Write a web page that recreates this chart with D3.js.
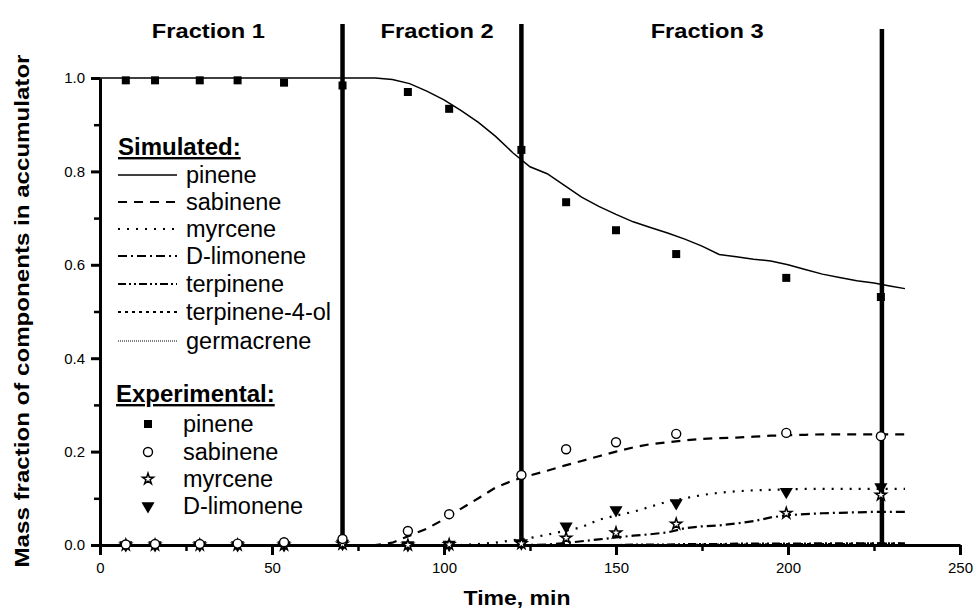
<!DOCTYPE html>
<html>
<head>
<meta charset="utf-8">
<script src="https://cdn.jsdelivr.net/npm/d3@7"></script>
<style>
  body { margin: 0; background: #fff; }
  svg { font-family: Arial, "Liberation Sans", sans-serif; }
  .tick text { font-size: 15px; }
</style>
</head>
<body>
<div id="chart"></div>
<script>
// svg container
var width = 976;
var height = 613;

var margin = { top: 78, right: 16, bottom: 68, left: 100 };

// simulated curves (time grid + one array per component)
var simTime = [0, 10, 20, 30, 40, 50, 60, 70, 80, 85, 90, 95, 100, 105, 110, 115, 120, 125, 130, 135,
  140, 145, 150, 155, 160, 165, 170, 175, 180, 185, 190, 195, 200, 205, 210, 215, 220, 225, 230, 234];
var simPinene = [1, 1, 1, 1, 1, 1, 1, 1, 1, 0.997, 0.988, 0.972, 0.953, 0.93, 0.905, 0.875, 0.84, 0.81, 0.795, 0.77,
  0.745, 0.725, 0.708, 0.692, 0.68, 0.668, 0.655, 0.64, 0.622, 0.617, 0.612, 0.608, 0.6, 0.59, 0.58, 0.573, 0.566, 0.561, 0.554, 0.549];
var simSabinene = [0, 0, 0, 0, 0, 0, 0, 0, 0, 0.005, 0.02, 0.035, 0.055, 0.078, 0.1, 0.123, 0.138, 0.149, 0.159, 0.17,
  0.18, 0.19, 0.2, 0.209, 0.216, 0.22, 0.224, 0.227, 0.229, 0.23, 0.232, 0.234, 0.235, 0.236, 0.237, 0.237, 0.237, 0.237, 0.237, 0.237];
var simMyrcene = [0, 0, 0, 0, 0, 0, 0, 0, 0, 0, 0, 0, 0, 0, 0.002, 0.005, 0.01, 0.015, 0.022, 0.03,
  0.038, 0.054, 0.063, 0.071, 0.082, 0.093, 0.1, 0.107, 0.112, 0.115, 0.117, 0.118, 0.119, 0.12, 0.12, 0.12, 0.12, 0.12, 0.12, 0.12];
var simLimonene = [0, 0, 0, 0, 0, 0, 0, 0, 0, 0, 0, 0, 0, 0, 0, 0, 0, 0, 0.001, 0.004,
  0.008, 0.012, 0.016, 0.02, 0.023, 0.027, 0.036, 0.04, 0.042, 0.046, 0.051, 0.059, 0.064, 0.066, 0.068, 0.069, 0.07, 0.071, 0.071, 0.071];
var simTerpinene = [0, 0, 0, 0, 0, 0, 0, 0, 0, 0, 0, 0, 0, 0, 0, 0, 0, 0, 0, 0,
  0, 0, 0, 0.001, 0.001, 0.001, 0.002, 0.002, 0.002, 0.003, 0.003, 0.003, 0.003, 0.003, 0.004, 0.004, 0.004, 0.004, 0.004, 0.004];
var simTerpinenol = [0, 0, 0, 0, 0, 0, 0, 0, 0, 0, 0, 0, 0, 0, 0, 0, 0, 0, 0, 0,
  0, 0, 0, 0, 0, 0, 0, 0.001, 0.001, 0.001, 0.001, 0.002, 0.002, 0.002, 0.002, 0.002, 0.003, 0.003, 0.003, 0.003];
var simGermacrene = [0, 0, 0, 0, 0, 0, 0, 0, 0, 0, 0, 0, 0, 0, 0, 0, 0, 0, 0, 0,
  0, 0, 0, 0, 0, 0, 0, 0, 0, 0, 0, 0, 0, 0.001, 0.001, 0.001, 0.001, 0.001, 0.001, 0.001];

// experimental points
var expTime = [7.5, 16, 29, 40, 53.5, 70.5, 89.5, 101.5, 122.5, 135.5, 150, 167.5, 199.5, 227];
var expPinene = [0.995, 0.995, 0.995, 0.995, 0.99, 0.984, 0.97, 0.934, 0.846, 0.734, 0.674, 0.623, 0.572, 0.531];
var expSabinene = [0.001, 0.002, 0.002, 0.003, 0.006, 0.013, 0.03, 0.066, 0.15, 0.205, 0.22, 0.238, 0.24, 0.233];
var expMyrcene = [0, 0, 0, 0, 0, 0.002, 0, 0.001, 0.003, 0.015, 0.026, 0.045, 0.068, 0.107];
var expLimonene = [0, 0, 0, 0, 0, 0.003, 0, 0.001, 0.004, 0.04, 0.075, 0.09, 0.114, 0.124];

// fraction boundaries and labels
var cutTimes = [70.5, 122.5, 227.3];
var cutTops = [24, 24, 29];
var fractionLabels = ["Fraction 1", "Fraction 2", "Fraction 3"];
var fractionCenters = [31.5, 98, 176.5];

var xTicks = [0, 50, 100, 150, 200, 250];
var yTicks = [0, 0.2, 0.4, 0.6, 0.8, 1.0];

var svg = d3.select("#chart")
    .append("svg")
    .attr("width", width)
    .attr("height", height);

var x = d3.scaleLinear().domain([0, 250]).range([margin.left, width - margin.right]);
var y = d3.scaleLinear().domain([0, 1]).range([height - margin.bottom, margin.top]);

// minor ticks
svg.append("g")
    .attr("transform", `translate(0, ${y(0)})`)
    .call(d3.axisBottom(x).tickValues(d3.range(25, 250, 50)).tickSize(6).tickFormat(""))
    .call(g => g.select(".domain").remove())
    .call(g => g.selectAll("line").attr("stroke-width", 2.5));
svg.append("g")
    .attr("transform", `translate(${x(0)}, 0)`)
    .call(d3.axisLeft(y).tickValues(d3.range(0.1, 1, 0.2)).tickSize(6).tickFormat(""))
    .call(g => g.select(".domain").remove())
    .call(g => g.selectAll("line").attr("stroke-width", 2.5));

// main axes
svg.append("g")
    .attr("transform", `translate(0, ${y(0)})`)
    .call(d3.axisBottom(x).tickValues(xTicks).tickSize(10).tickSizeOuter(0).tickPadding(7).tickFormat(d3.format("d")))
    .call(g => g.select(".domain").attr("stroke-width", 3))
    .call(g => g.selectAll(".tick line").attr("stroke-width", 3))
    .call(g => g.selectAll(".tick text").attr("fill", "#000").style("font-size", "15px"));
svg.append("g")
    .attr("transform", `translate(${x(0)}, 0)`)
    .call(d3.axisLeft(y).tickValues(yTicks).tickSize(9).tickSizeOuter(0).tickPadding(6).tickFormat(d3.format(".1f")))
    .call(g => g.select(".domain").attr("stroke-width", 3))
    .call(g => g.selectAll(".tick line").attr("stroke-width", 3))
    .call(g => g.selectAll(".tick text").attr("fill", "#000").style("font-size", "15px"));

// axis titles
svg.append("text")
    .attr("x", 517).attr("y", 605)
    .attr("text-anchor", "middle")
    .attr("font-weight", "bold").attr("font-size", 21)
    .attr("textLength", 107).attr("lengthAdjust", "spacingAndGlyphs")
    .text("Time, min");
svg.append("text")
    .attr("transform", "translate(29, 311) rotate(-90)")
    .attr("text-anchor", "middle")
    .attr("font-weight", "bold").attr("font-size", 21)
    .attr("textLength", 513).attr("lengthAdjust", "spacingAndGlyphs")
    .text("Mass fraction of components in accumulator");

// fraction labels + boundaries
fractionLabels.forEach(function(t, i) {
  svg.append("text")
      .attr("x", x(fractionCenters[i])).attr("y", 38)
      .attr("text-anchor", "middle")
      .attr("font-weight", "bold").attr("font-size", 21)
      .attr("textLength", 113).attr("lengthAdjust", "spacingAndGlyphs")
      .text(t);
});

// simulated lines
var simSeries = [
  { name: "pinene", values: simPinene, dash: null, w: 1.5 },
  { name: "sabinene", values: simSabinene, dash: "9,7", w: 2.2 },
  { name: "myrcene", values: simMyrcene, dash: "2,7", w: 2.2 },
  { name: "D-limonene", values: simLimonene, dash: "9,4,2,4", w: 2.2 },
  { name: "terpinene", values: simTerpinene, dash: "8,3,2,3,2,3", w: 2 },
  { name: "terpinene-4-ol", values: simTerpinenol, dash: "3,4", w: 2 },
  { name: "germacrene", values: simGermacrene, dash: "1,1", w: 1 }
];

var line = d3.line()
    .x(function(d, i) { return x(simTime[i]); })
    .y(function(d) { return y(d); });

simSeries.forEach(function(s) {
  svg.append("path")
      .datum(s.values)
      .attr("fill", "none")
      .attr("stroke", "#000")
      .attr("stroke-width", s.w)
      .attr("stroke-dasharray", s.dash)
      .attr("d", line);
});

cutTimes.forEach(function(t, i) {
  svg.append("line")
      .attr("x1", x(t)).attr("x2", x(t))
      .attr("y1", cutTops[i]).attr("y2", y(0))
      .attr("stroke", "#000").attr("stroke-width", 4.5);
});

// markers
var star = d3.symbol().type(d3.symbolStar).size(38);
var tri = d3.symbol().type(d3.symbolTriangle).size(75);

function drawSquares(g, cx, cy) {
  g.append("rect").attr("x", cx - 4).attr("y", cy - 4).attr("width", 8).attr("height", 8).attr("fill", "#000");
}
function drawCircle(g, cx, cy) {
  g.append("circle").attr("cx", cx).attr("cy", cy).attr("r", 4.5)
      .attr("fill", "#fff").attr("stroke", "#000").attr("stroke-width", 1.4);
}
function drawStar(g, cx, cy) {
  g.append("path").attr("d", star).attr("transform", `translate(${cx},${cy})`)
      .attr("fill", "#fff").attr("stroke", "#000").attr("stroke-width", 1.5);
}
function drawTri(g, cx, cy) {
  g.append("path").attr("d", tri).attr("transform", `translate(${cx},${cy}) rotate(180)`)
      .attr("fill", "#000");
}

var pts = svg.append("g");
expTime.forEach(function(t, i) {
  drawTri(pts, x(t), y(expLimonene[i]));
  drawStar(pts, x(t), y(expMyrcene[i]));
  drawCircle(pts, x(t), y(expSabinene[i]));
  drawSquares(pts, x(t), y(expPinene[i]));
});

// legend
var leg = svg.append("g");
leg.append("text")
    .attr("x", 118).attr("y", 155)
    .attr("font-weight", "bold").attr("font-size", 24)
    .style("text-decoration", "underline")
    .text("Simulated:");

var rowY = [175, 202, 229, 256, 284, 312, 341];
simSeries.forEach(function(s, i) {
  leg.append("line")
      .attr("x1", 118).attr("x2", 177)
      .attr("y1", rowY[i]).attr("y2", rowY[i])
      .attr("stroke", "#000")
      .attr("stroke-width", s.w)
      .attr("stroke-dasharray", s.dash);
  leg.append("text")
      .attr("x", 186).attr("y", rowY[i]).attr("dy", "0.33em")
      .attr("font-size", 23.5)
      .text(s.name);
});

leg.append("text")
    .attr("x", 116).attr("y", 402)
    .attr("font-weight", "bold").attr("font-size", 24)
    .style("text-decoration", "underline")
    .text("Experimental:");

var expNames = ["pinene", "sabinene", "myrcene", "D-limonene"];
var expRowY = [424, 452, 479, 506];
var drawers = [drawSquares, drawCircle, drawStar, drawTri];
expNames.forEach(function(n, i) {
  drawers[i](leg, 148, expRowY[i]);
  leg.append("text")
      .attr("x", 183).attr("y", expRowY[i]).attr("dy", "0.33em")
      .attr("font-size", 23.5)
      .text(n);
});
</script>
</body>
</html>
